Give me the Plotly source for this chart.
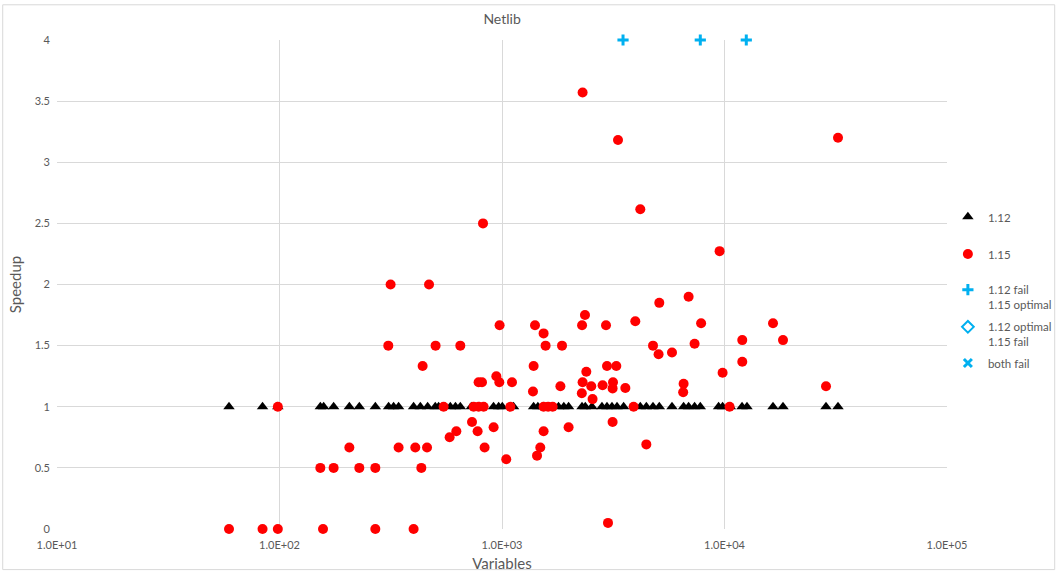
import plotly.graph_objects as go

# Solver 1.12: speedup reference points (all at 1.0)
v112_vars = [59.3, 83.9, 98.3, 152.6, 157.9, 175.1, 206, 228.4, 269.6, 309.3,
             325.7, 343.0, 400.6, 429.5, 463.2, 501.3, 519, 585.8, 618, 649.6,
             728, 790, 916, 966, 1003, 1127, 1387, 1450, 1538, 1795, 1896, 1992,
             2289, 2368, 2537, 2814, 2964, 3121, 3288, 3521, 4184, 4453, 4772,
             5093, 5808, 6550, 6898, 7337, 7784, 9408, 9805, 10620, 11990, 12620,
             16520, 18320, 28590, 32370]
v112_speedup = [1.0] * len(v112_vars)

# Solver 1.15: speedup per problem
v115_vars = [59.3, 83.9, 98.3, 156.9, 269.6, 400.6, 2995,
             98.3, 546.6, 745.6, 785, 826.8, 1090, 1538, 1612, 1689, 3904, 10540,
             152.6, 175.1, 228.4, 269.6, 434,
             206, 343, 407.7, 460.3, 835.4, 1486,
             581.6, 623.4, 776.9, 1538, 733.3, 3141, 916.9, 1992,
             1045, 1437, 4453,
             785, 813, 972.5, 1109, 2303, 3154,
             943, 1378, 1830, 2519, 2284, 2553,
             2832, 3141, 3584, 6550, 6520, 28590,
             2393, 2964, 3264, 1387, 439.8,
             308.3, 502.9, 649.6, 1570, 1861, 4772,
             1538, 975.5, 1407, 2290, 2934,
             3973, 2360, 5093, 6898, 7850, 16520,
             5055, 5808, 7337, 12020, 18320, 12020, 9805,
             315.7, 469.9, 821.6, 2303, 3322, 4184, 9506, 32370]
v115_speedup = [0, 0, 0, 0, 0, 0, 0.05,
                1, 1, 1, 1, 1, 1, 1, 1, 1, 1, 1,
                0.5, 0.5, 0.5, 0.5, 0.5,
                0.667, 0.667, 0.667, 0.667, 0.667, 0.667,
                0.75, 0.8, 0.8, 0.8, 0.875, 0.875, 0.833, 0.833,
                0.571, 0.6, 0.692,
                1.2, 1.2, 1.2, 1.2, 1.2, 1.2,
                1.25, 1.125, 1.167, 1.167, 1.111, 1.0625,
                1.176, 1.15, 1.154, 1.188, 1.118, 1.167,
                1.286, 1.333, 1.333, 1.333, 1.333,
                1.5, 1.5, 1.5, 1.5, 1.5, 1.5,
                1.6, 1.667, 1.667, 1.667, 1.667,
                1.7, 1.75, 1.85, 1.9, 1.683, 1.683,
                1.429, 1.444, 1.516, 1.545, 1.545, 1.368, 1.278,
                2, 2, 2.5, 3.571, 3.182, 2.615, 2.273, 3.2]

# 1.12 failed, 1.15 optimal (plotted at the cap of 4)
fail112_vars = [3499, 7784, 12530]
fail112_speedup = [4, 4, 4]

# 1.12 optimal, 1.15 failed
fail115_vars = []
fail115_speedup = []

# both failed
both_fail_vars = []
both_fail_speedup = []

x_tick_vals = [10, 100, 1000, 10000, 100000]
x_tick_text = ["1.0E+01", "1.0E+02", "1.0E+03", "1.0E+04", "1.0E+05"]
y_tick_vals = [0, 0.5, 1, 1.5, 2, 2.5, 3, 3.5, 4]
y_tick_text = ["0", "0.5", "1", "1.5", "2", "2.5", "3", "3.5", "4"]

GRAY = "#595959"
GRID = "#d9d9d9"
BLUE = "#00B0F0"
FONT = "Lato, 'Open Sans', sans-serif"

# one legend box per entry so the entries sit evenly spaced
legend_tops = [0.667, 0.591, 0.518, 0.442, 0.368]
legend_names = ["legend", "legend2", "legend3", "legend4", "legend5"]

fig = go.Figure()
fig.add_trace(go.Scatter(
    x=v112_vars, y=v112_speedup, mode="markers", name="1.12",
    legend="legend", cliponaxis=False,
    marker=dict(symbol="triangle-up", size=10, color="black")))
fig.add_trace(go.Scatter(
    x=v115_vars, y=v115_speedup, mode="markers", name="1.15",
    legend="legend2", cliponaxis=False,
    marker=dict(symbol="circle", size=10, color="#FF0000")))
fig.add_trace(go.Scatter(
    x=fail112_vars, y=fail112_speedup, mode="markers",
    name="1.12 fail<br>1.15 optimal", legend="legend3", cliponaxis=False,
    marker=dict(symbol="cross-thin", size=8, color=BLUE,
                line=dict(color=BLUE, width=3))))
fig.add_trace(go.Scatter(
    x=fail115_vars or [None], y=fail115_speedup or [None], mode="markers",
    name="1.12 optimal<br>1.15 fail", legend="legend4",
    marker=dict(symbol="diamond-open", size=9, color=BLUE,
                line=dict(color=BLUE, width=2))))
fig.add_trace(go.Scatter(
    x=both_fail_vars or [None], y=both_fail_speedup or [None], mode="markers",
    name="both fail", legend="legend5",
    marker=dict(symbol="x-thin", size=8, color=BLUE,
                line=dict(color=BLUE, width=3))))

legend_style = dict(x=1.001, xanchor="left", yanchor="top",
                    font=dict(size=11.5, color=GRAY, family=FONT),
                    valign="top", itemwidth=30, bgcolor="rgba(0,0,0,0)")
legend_layout = {name: dict(legend_style, y=top)
                 for name, top in zip(legend_names, legend_tops)}

fig.update_layout(
    width=1057, height=573,
    margin=dict(l=57, r=110, t=40, b=44, autoexpand=False),
    paper_bgcolor="white", plot_bgcolor="white",
    font=dict(family=FONT, color=GRAY, size=11),
    title=dict(text="Netlib", x=0.475, xanchor="center", y=0.975, yanchor="top",
               font=dict(size=14, color=GRAY, family=FONT)),
    showlegend=True,
    xaxis=dict(type="log", range=[1, 5], tickvals=x_tick_vals, ticktext=x_tick_text,
               showgrid=True, gridcolor=GRID, gridwidth=1, zeroline=False,
               showline=False, ticks="", tickfont=dict(size=11, color=GRAY),
               ticklabelstandoff=8, automargin=False,
               title=dict(text="Variables", font=dict(size=15, color=GRAY), standoff=8)),
    yaxis=dict(range=[0, 4], tickvals=y_tick_vals, ticktext=y_tick_text,
               showgrid=True, gridcolor=GRID, gridwidth=1, zeroline=False,
               showline=False, ticks="", tickfont=dict(size=11, color=GRAY),
               ticklabelstandoff=6, automargin=False,
               title=dict(text="Speedup", font=dict(size=15, color=GRAY), standoff=9)),
    shapes=[dict(type="rect", xref="paper", yref="paper",
                 x0=-0.061, x1=1.121, y0=-0.083, y1=1.072,
                 line=dict(color=GRID, width=1), fillcolor="rgba(0,0,0,0)",
                 layer="below")],
    **legend_layout,
)

fig.write_html("out.html")
